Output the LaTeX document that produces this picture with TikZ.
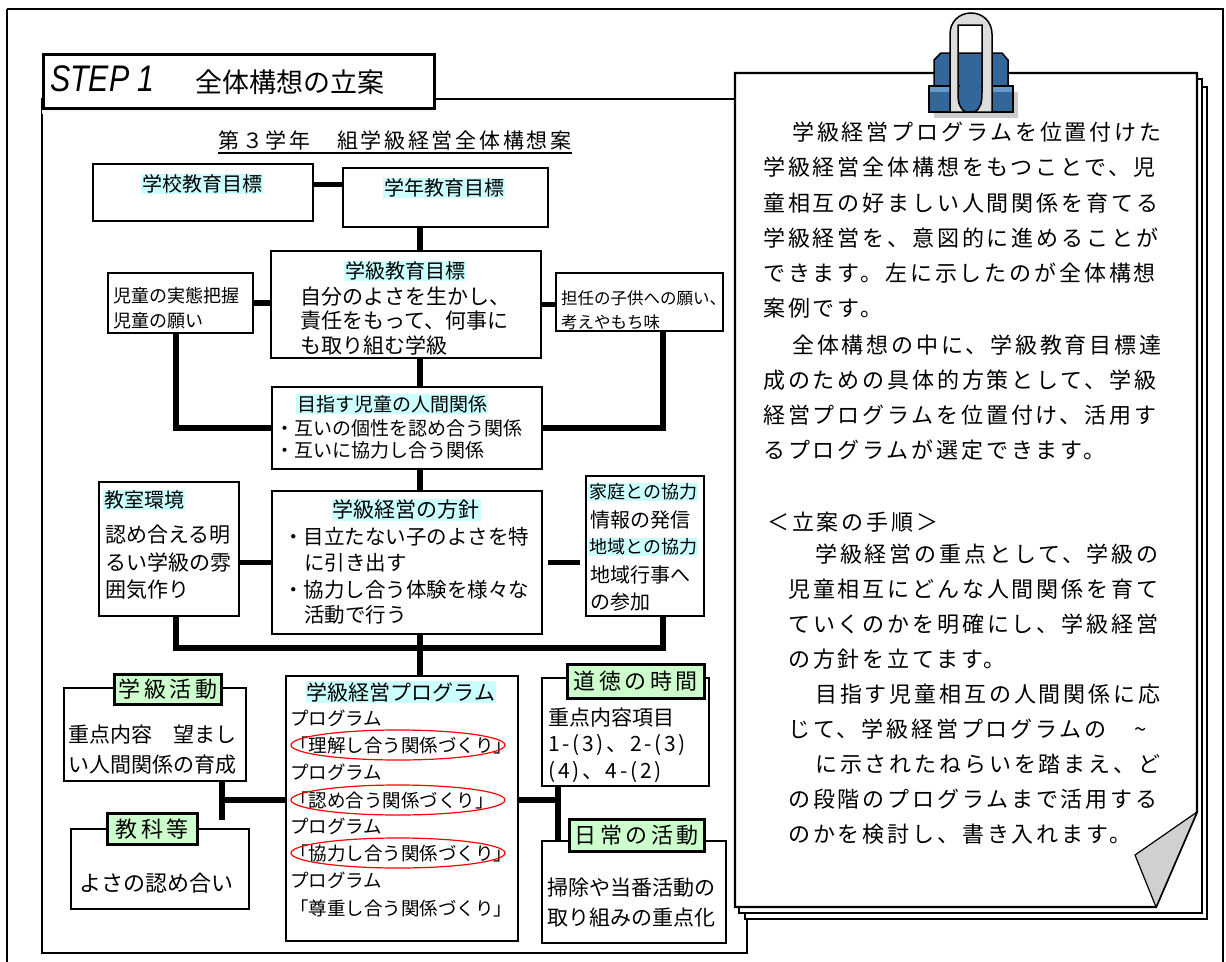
\documentclass[tikz,border=0pt]{standalone}
\usepackage{fontspec}
\usepackage{graphicx}
\usetikzlibrary{calc,backgrounds}
\newfontfamily\jp{Noto Sans CJK JP}
\newfontfamily\jpl{Noto Sans CJK JP}[LetterSpace=13]
\newfontfamily\jpt{Noto Sans CJK JP}[LetterSpace=16]
\newfontfamily\arial{Liberation Sans}
\newcommand\fs[1]{\fontsize{#1}{#1}\selectfont}
\definecolor{hlc}{HTML}{CCFFFF}
\definecolor{tabc}{HTML}{CCFFCC}
\definecolor{clipblue}{HTML}{336699}
\definecolor{cliplight}{HTML}{6699CC}
\definecolor{wire}{HTML}{DDDDDD}
\definecolor{foldgray}{HTML}{D0D0D0}
\definecolor{shade}{HTML}{404040}

\begin{document}
\begin{tikzpicture}[x=1pt,y=-1pt,
  box/.style={draw,line width=2.4pt,fill=white,inner sep=0pt,anchor=north west},
  tabbox/.style={draw,line width=2.8pt,fill=tabc,inner sep=0pt,anchor=north west,font=\jpt\fs{22}},
  conn/.style={line width=5.5pt},
  hl/.style={fill=hlc,inner sep=1pt},
  tx/.style={inner sep=0pt,anchor=west},
  frame/.style={line width=2.2pt}
  ]
\useasboundingbox (0,0) rectangle (1226,961);

% ---------- frames ----------
\draw[frame] (7,9) -- (7,970) (7,9) -- (1223,9) -- (1223,970);
\draw[frame] (42,99) rectangle (747,953);

% ---------- heading ----------
\fill[shade] (42,60) rectangle (435,113);
\node[draw,line width=2.5pt,fill=white,anchor=north west,inner sep=0pt,
      minimum width=391,minimum height=54] (stepbox) at (42,53) {};
\node[tx] (steplabel) at (50,79) {\scalebox{0.82}[1]{\arial\itshape\fs{37}STEP 1}};
\node[tx,font=\jp\fs{27}] (steptitle) at (195,82) {全体構想の立案};

\node[inner sep=0pt,font=\jpl\fs{21}] (title) at (395,140) {第３学年　組学級経営全体構想案};
\draw[line width=1.5pt] ([yshift=-3pt]title.south west) -- ([yshift=-3pt]title.south east);

% ---------- boxes ----------
\node[box,minimum width=220,minimum height=57]  (school)     at (92,163) {};
\node[box,minimum width=205,minimum height=59]  (gakunen)    at (342,167) {};
\node[box,minimum width=270,minimum height=107] (kyuu)       at (270,250) {};
\node[box,minimum width=145,minimum height=60]  (jido)       at (107,272) {};
\node[box,minimum width=167,minimum height=58]  (tannin)     at (555,272) {};
\node[box,minimum width=270,minimum height=82]  (mezasu)     at (271,386) {};
\node[box,minimum width=140,minimum height=134] (kyoushitsu) at (98,481) {};
\node[box,minimum width=270,minimum height=143] (houshin)    at (271,490) {};
\node[box,minimum width=118,minimum height=140] (katei)      at (585,475) {};
\node[box,minimum width=182,minimum height=93]  (katsudou)   at (63,687) {};
\node[box,minimum width=178,minimum height=80]  (kyouka)     at (70,828) {};
\node[box,minimum width=232,minimum height=265] (program)    at (285,675) {};
\node[box,minimum width=167,minimum height=108] (doutoku)    at (541,677) {};
\node[box,minimum width=184,minimum height=102] (nichijou)   at (541,840) {};

\node[tabbox,minimum width=107,minimum height=30] (tabKatsu) at (113,673) {学級活動};
\node[tabbox,minimum width=90,minimum height=31]  (tabKyou)  at (106,812) {教科等};
\node[tabbox,minimum width=137,minimum height=34] (tabDou)   at (566,663) {道徳の時間};
\node[tabbox,minimum width=135,minimum height=32] (tabNichi) at (568,818) {日常の活動};

% ---------- junction points ----------
\coordinate (spine) at (420,0);
\coordinate (lb) at (176,0);
\coordinate (rb) at (663,0);
\coordinate (bar) at (420,648);
\coordinate (lj) at (222,800);
\coordinate (lend) at (222,820);
\coordinate (rj) at (558,800);

% ---------- connectors ----------
\begin{scope}[on background layer]
\fill[white] (0,0) rectangle (1226,961);
\draw[conn] ([yshift=8pt]school.east) -- ([yshift=8pt]school.east -| gakunen.west);
\draw[conn] (gakunen.south -| spine) -- (kyuu.north -| spine);
\draw[conn] (jido.east) -- (jido.east -| kyuu.west);
\draw[conn] (kyuu.east) -- (kyuu.east -| tannin.west);
\draw[conn] (jido.south -| lb) |- (mezasu.west);
\draw[conn] (tannin.south -| rb) |- (mezasu.east);
\draw[conn] (kyuu.south -| spine) -- (mezasu.north -| spine);
\draw[conn] (mezasu.south -| spine) -- (houshin.north -| spine);
\draw[conn] (kyoushitsu.east |- houshin.west) -- (houshin.west);
\draw[conn,shorten <=5pt,shorten >=5pt] (houshin.east) -- (houshin.east -| katei.west);
\draw[conn] (kyoushitsu.south -| lb) |- (bar) -| (katei.south -| rb);
\draw[conn] (houshin.south -| spine) -- (program.north -| spine);
\draw[conn] (katsudou.south -| lj) -- (lend);
\draw[conn] (lj) -- (lj -| program.west);
\draw[conn] (doutoku.south -| rj) -- (nichijou.north -| rj);
\draw[conn] (rj -| program.east) -- (rj);
\end{scope}

% ---------- box texts ----------
\node[hl,font=\jp\fs{20}] (tSchool) at (202,184) {学校教育目標};
\node[hl,font=\jp\fs{20}] (tGakunen) at (444,188) {学年教育目標};

\node[hl,font=\jp\fs{20}] (tKyuu) at (405,271) {学級教育目標};
\node[tx,font=\jp\fs{21}] (tKyuu1) at (300,297) {自分のよさを生かし、};
\node[tx,font=\jp\fs{21}] (tKyuu2) at (300,321) {責任をもって、何事に};
\node[tx,font=\jp\fs{21}] (tKyuu3) at (300,345) {も取り組む学級};

\node[tx,font=\jp\fs{18}] (tJido1) at (113,296) {児童の実態把握};
\node[tx,font=\jp\fs{18}] (tJido2) at (113,321) {児童の願い};

\node[tx,font=\jp\fs{16.5}] (tTan1) at (561,298) {担任の子供への願い、};
\node[tx,font=\jp\fs{16.5}] (tTan2) at (561,322) {考えやもち味};

\node[hl,font=\jp\fs{19}] (tMez) at (392,404) {目指す児童の人間関係};
\node[tx,font=\jp\fs{19}] (tMez1) at (275,428) {・互いの個性を認め合う関係};
\node[tx,font=\jp\fs{19}] (tMez2) at (275,450) {・互いに協力し合う関係};

\node[hl,font=\jp\fs{20},anchor=west] (tKyo) at (103,500) {教室環境};
\node[tx,font=\jp\fs{21}] (tKyo1) at (105,535) {認め合える明};
\node[tx,font=\jp\fs{21}] (tKyo2) at (105,562) {るい学級の雰};
\node[tx,font=\jp\fs{21}] (tKyo3) at (105,590) {囲気作り};

\node[hl,font=\jp\fs{21}] (tHou) at (406,510) {学級経営の方針};
\node[tx,font=\jp\fs{20.5}] (tHou1) at (283,537) {・目立たない子のよさを特};
\node[tx,font=\jp\fs{20.5}] (tHou2) at (304,563) {に引き出す};
\node[tx,font=\jp\fs{20.5}] (tHou3) at (283,590) {・協力し合う体験を様々な};
\node[tx,font=\jp\fs{20.5}] (tHou4) at (304,615) {活動で行う};

\node[hl,font=\jp\fs{18},anchor=west] (tKat1) at (588,492) {家庭との協力};
\node[tx,font=\jp\fs{20}] (tKat2) at (590,520) {情報の発信};
\node[hl,font=\jp\fs{18},anchor=west] (tKat3) at (588,547) {地域との協力};
\node[tx,font=\jp\fs{20}] (tKat4) at (590,575) {地域行事へ};
\node[tx,font=\jp\fs{20}] (tKat5) at (590,602) {の参加};

\node[tx,font=\jp\fs{21}] (tAct1) at (68,735) {重点内容　望まし};
\node[tx,font=\jp\fs{21}] (tAct2) at (68,765) {い人間関係の育成};
\node[tx,font=\jp\fs{22}] (tSub1) at (79,883) {よさの認め合い};

\node[hl,font=\jp\fs{21}] (tPro) at (401,692) {学級経営プログラム};
\foreach \yy/\tt [count=\i] in {718/プログラム,745/「理解し合う関係づくり」,772/プログラム,
   800/「認め合う関係づくり」,826/プログラム,853/「協力し合う関係づくり」,
   880/プログラム,908/「尊重し合う関係づくり」}
  \node[tx,font=\jp\fs{18.5}] (tPro\i) at (290,\yy) {\tt};
\foreach \yy [count=\i] in {745,800,853}
  \draw[red,line width=1.2pt] (398,\yy) ellipse [x radius=107,y radius=15];

\node[tx,font=\jp\fs{21}] (tDou1) at (548,718) {重点内容項目};
\node[tx,font=\jpl\fs{21}] (tDou2) at (548,745) {1-(3)、2-(3)};
\node[tx,font=\jpl\fs{21}] (tDou3) at (548,772) {(4)、4-(2)};

\node[tx,font=\jp\fs{21}] (tNic1) at (547,888) {掃除や当番活動の};
\node[tx,font=\jp\fs{21}] (tNic2) at (547,918) {取り組みの重点化};

% ---------- stacked pages ----------
\filldraw[fill=white,line width=2.2pt] (745,87) rectangle (1207,919);
\filldraw[fill=white,line width=2.2pt] (739,79) rectangle (1202,913);
\filldraw[fill=white,line width=2.2pt] (735,73) -- (1197,73) -- (1197,812) -- (1156,907) -- (735,907) -- cycle;
\filldraw[fill=foldgray,line width=1.2pt] (1197,812) -- (1135,855) -- (1156,907) -- cycle;

\foreach \xx/\yy/\tt [count=\i] in {
  792/132/学級経営プログラムを位置付けた,
  763/167/学級経営全体構想をもつことで、児,
  763/203/童相互の好ましい人間関係を育てる,
  763/238/学級経営を、意図的に進めることが,
  763/273/できます。左に示したのが全体構想,
  763/308/案例です。,
  792/345/全体構想の中に、学級教育目標達,
  763/380/成のための具体的方策として、学級,
  763/415/経営プログラムを位置付け、活用す,
  763/450/るプログラムが選定できます。,
  767/522/＜立案の手順＞,
  815/554/学級経営の重点として、学級の,
  788/589/児童相互にどんな人間関係を育て,
  788/624/ていくのかを明確にし、学級経営,
  788/659/の方針を立てます。,
  815/694/目指す児童相互の人間関係に応,
  815/764/に示されたねらいを踏まえ、ど,
  788/799/の段階のプログラムまで活用する,
  788/834/のかを検討し、書き入れます。}
  \node[tx,font=\jpl\fs{22}] (p\i) at (\xx,\yy) {\tt};
\node[tx,font=\jpl\fs{22}] (pTilde) at (788,729) {じて、学級経営プログラムの　\char"7E};

% ---------- binder clip ----------
\fill[gray!40] (934,92) rectangle (1018,118);
\filldraw[fill=clipblue,line width=1.5pt] (934,88) -- (934,60) -- (941,53) -- (1002,53) -- (1008,60) -- (1008,88) -- cycle;
\filldraw[fill=clipblue,line width=1.5pt] (929,86) rectangle (1013,112);
\fill[cliplight] (930,87) rectangle (950,92);
\fill[cliplight] (992,87) rectangle (1012,92);
\filldraw[fill=wire,line width=1.5pt,even odd rule]
  (950,112) -- (950,34) .. controls (950,22) and (959,13) .. (971,13)
  .. controls (983,13) and (992,22) .. (992,34) -- (992,112) -- cycle
  (966,112) .. controls (959,109) and (958,102) .. (958,92) -- (958,25) -- (982,25)
  -- (982,92) .. controls (982,102) and (981,109) .. (974,112) -- cycle;
\fill[clipblue] (959.5,54) rectangle (980.5,88);
\end{tikzpicture}
\end{document}
